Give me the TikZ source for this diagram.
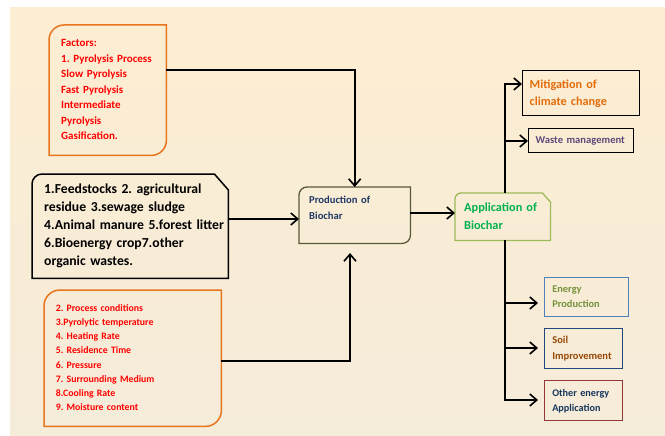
\documentclass[tikz,border=0pt]{standalone}
\usepackage{fontspec}
\setmainfont{Carlito}
\usetikzlibrary{arrows.meta,calc}
\frenchspacing
\definecolor{bgtop}{RGB}{253,237,210}
\definecolor{bgbot}{RGB}{245,236,218}
\definecolor{orng}{RGB}{232,118,31}
\definecolor{redtxt}{RGB}{255,0,0}
\definecolor{prodline}{RGB}{88,88,60}
\definecolor{navy}{RGB}{31,56,100}
\definecolor{appline}{RGB}{155,187,89}
\definecolor{appgreen}{RGB}{0,176,80}
\definecolor{mittext}{RGB}{227,108,9}
\definecolor{purp}{RGB}{95,73,122}
\definecolor{enline}{RGB}{79,129,189}
\definecolor{entext}{RGB}{118,146,60}
\definecolor{soilline}{RGB}{31,73,125}
\definecolor{soiltext}{RGB}{152,72,6}
\definecolor{othline}{RGB}{149,55,53}
\definecolor{othtext}{RGB}{23,54,93}
\newcommand\lns[1]{\begin{tabular}{@{}l@{}}#1\end{tabular}}
% top-left and bottom-right rounded box border
\newcommand\tlbrbox[3]{\draw[#2] (#1.south west) -- ([yshift=-#3]#1.north west) arc[start angle=180,end angle=90,radius=#3] -- (#1.north east) -- ([yshift=#3]#1.south east) arc[start angle=0,end angle=-90,radius=#3] -- cycle;}
% top-left rounded, top-right snipped
\newcommand\tlsnipbox[5]{\draw[#2] (#1.south west) -- ([yshift=-#3]#1.north west) arc[start angle=180,end angle=90,radius=#3] -- ([xshift=-#4]#1.north east) -- ([yshift=-#5]#1.north east) -- (#1.south east) -- cycle;}
\tikzset{
  box/.style={draw=none, inner sep=0pt, anchor=north west, align=left, execute at begin node=\frenchspacing},
  conn/.style={line width=1.8pt, black, -{Straight Barb[length=7pt,width=12pt,line width=1.6pt]}},
}
\begin{document}
\begin{tikzpicture}[x=1pt,y=-1pt]
\useasboundingbox (0,0) rectangle (665,436);
\fill[white] (0,0) rectangle (665,436);
\shade[top color=bgtop, bottom color=bgbot] (10,8) rectangle (665,436);

% left boxes
\node[box, minimum width=117pt, minimum height=130pt, text width=93pt,
  font=\fontsize{11}{15.5}\selectfont\bfseries, text=redtxt] (fac) at (49,25)
  {\lns{Factors:\\1. Pyrolysis Process\\Slow Pyrolysis\\Fast Pyrolysis\\Intermediate\\Pyrolysis\\Gasification.}};
\tlbrbox{fac}{orng, line width=1.5pt}{15pt}

\node[box, minimum width=196pt, minimum height=104pt, text width=172pt,
  font=\fontsize{13.7}{18}\selectfont\bfseries, text=black] (feed) at (32,174)
  {\lns{1.Feedstocks 2. agricultural\\residue 3.sewage sludge\\4.Animal manure 5.forest litter\\6.Bioenergy crop7.other\\organic wastes.}};
\tlsnipbox{feed}{black, line width=1.5pt}{10pt}{14pt}{16pt}

\node[box, minimum width=177pt, minimum height=136pt, text width=153.8pt,
  font=\fontsize{9.8}{14.2}\selectfont\bfseries, text=redtxt] (proc) at (44,290)
  {\lns{2. Process conditions\\3.Pyrolytic temperature\\4. Heating Rate\\5. Residence Time\\6. Pressure\\7. Surrounding Medium\\8.Cooling Rate\\9. Moisture content}};
\tlbrbox{proc}{orng, line width=1.5pt}{16pt}

% centre
\node[box, minimum width=111pt, minimum height=56pt, text width=91pt,
  font=\fontsize{10.6}{16}\selectfont\bfseries, text=navy] (prod) at (299,187)
  {\lns{Production of\\Biochar\\[14pt]}};
\tlbrbox{prod}{prodline, line width=1.3pt}{8pt}

\node[box, minimum width=95pt, minimum height=47pt, text width=77pt,
  font=\fontsize{12.3}{18}\selectfont\bfseries, text=appgreen] (app) at (455,193)
  {\lns{Application of\\Biochar}};
\tlsnipbox{app}{appline, line width=1.3pt}{6pt}{8pt}{9pt}

% right boxes
\node[box, draw=black, line width=1.4pt, minimum width=117pt, minimum height=45pt, text width=103pt,
  font=\fontsize{12.2}{17}\selectfont\bfseries, text=mittext] (mit) at (522,70)
  {\lns{Mitigation of\\climate change}};
\node[box, draw=black, line width=1.3pt, minimum width=105pt, minimum height=24pt, text width=91pt,
  font=\fontsize{10.6}{13}\selectfont\bfseries, text=purp] (waste) at (528,128)
  {\lns{Waste management}};
\node[box, draw=enline, line width=1.2pt, minimum width=84pt, minimum height=39pt, text width=68.6pt,
  font=\fontsize{10.4}{15}\selectfont\bfseries, text=entext] (energy) at (544,277)
  {\lns{Energy\\Production}};
\node[box, draw=soilline, line width=1.2pt, minimum width=78pt, minimum height=40pt, text width=62.6pt,
  font=\fontsize{10.5}{15.5}\selectfont\bfseries, text=soiltext] (soil) at (544,328)
  {\lns{Soil\\Improvement}};
\node[box, draw=othline, line width=1.2pt, minimum width=78pt, minimum height=40pt, text width=62.6pt,
  font=\fontsize{10.2}{15}\selectfont\bfseries, text=othtext] (other) at (544,380)
  {\lns{Other energy\\Application}};

% connectors
\draw[conn] (fac.east |- 0,70) -| (prod.north);
\draw[conn] (feed.east |- 0,219) -- (prod.west |- 0,219);
\coordinate (ptip) at (350,253);
\draw[conn] (proc.east |- 0,361) -| (ptip);
\draw[conn] (prod.east |- 0,213) -- (app.west |- 0,213);

\coordinate (jw) at (505,141);
\coordinate (je) at (505,303);
\coordinate (js) at (505,348);
\draw[conn] (app.north -| jw) |- (mit.west |- 0,84);
\draw[conn] (jw) -- (waste.west |- jw);
\draw[conn] (app.south -| je) |- ([xshift=-6pt]other.west |- 0,400);
\draw[conn] (je) -- ([xshift=-6pt]energy.west |- je);
\draw[conn] (js) -- ([xshift=-6pt]soil.west |- js);
\end{tikzpicture}
\end{document}
